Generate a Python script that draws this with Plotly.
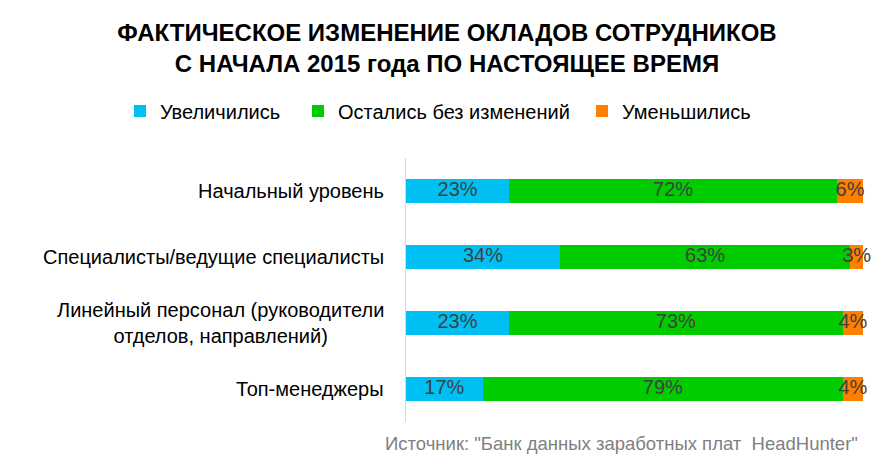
import plotly.graph_objects as go

categories = ["Начальный уровень",
              "Специалисты/ведущие специалисты",
              "Линейный персонал (руководители<br>отделов, направлений)",
              "Топ-менеджеры"]
series_names = ["Увеличились", "Остались без изменений", "Уменьшились"]
increased = [22.6, 33.7, 22.5, 16.8]
unchanged = [71.7, 63.5, 73.1, 78.8]
decreased = [5.7, 2.8, 4.4, 4.4]
increased_labels = ["23%", "34%", "23%", "17%"]
unchanged_labels = ["72%", "63%", "73%", "79%"]
decreased_labels = ["6%", "3%", "4%", "4%"]
colors = ["#00BFF3", "#00CC00", "#FF7F00"]

FONT = "Liberation Sans, Arial, sans-serif"
W, H = 894, 473
L, R, T, B = 406, 31, 158, 51
PW, PH = W - L - R, H - T - B

ys = list(range(len(categories)))
series = [increased, unchanged, decreased]
labels = [increased_labels, unchanged_labels, decreased_labels]
legend_ids = ["legend", "legend2", "legend3"]
legend_text_x = [160, 338, 622]

fig = go.Figure()
base = [0.0] * len(categories)
for name, vals, labs, col, lid in zip(series_names, series, labels, colors, legend_ids):
    fig.add_trace(go.Bar(
        y=ys, x=vals, name=name, orientation="h", legend=lid,
        marker=dict(color=col, line=dict(width=0)),
        hoverinfo="skip",
    ))
    mids = [b + v / 2 for b, v in zip(base, vals)]
    fig.add_trace(go.Scatter(
        y=ys, x=mids, mode="text", text=labs, showlegend=False,
        textposition="middle center", cliponaxis=False,
        textfont=dict(family=FONT, size=20, color="#404040"),
        hoverinfo="skip",
    ))
    base = [b + v for b, v in zip(base, vals)]

for i, c in enumerate(categories):
    fig.add_annotation(x=0, y=i, xref="paper", yref="y", text=c,
                       xanchor="right", yanchor="middle", align="center",
                       xshift=-20, showarrow=False,
                       font=dict(family=FONT, size=20, color="#000000"))

fig.add_annotation(x=(860 - L) / PW, y=((H - B) - 443) / PH, xref="paper", yref="paper",
                   text='Источник: "Банк данных заработных плат  HeadHunter"',
                   xanchor="right", yanchor="middle", showarrow=False,
                   font=dict(family=FONT, size=18.5, color="#808080"))

legend_common = dict(orientation="h", xref="container", yref="container",
                     xanchor="left", y=1 - 111 / H, yanchor="middle",
                     font=dict(family=FONT, size=20, color="#000000"),
                     itemwidth=30, bgcolor="rgba(0,0,0,0)")
legend_layouts = {lid: dict(legend_common, x=(tx - 40) / W)
                  for lid, tx in zip(legend_ids, legend_text_x)}

fig.update_layout(
    width=W, height=H,
    margin=dict(l=L, r=R, t=T, b=B, autoexpand=False),
    paper_bgcolor="white", plot_bgcolor="white",
    barmode="stack", bargap=0.65,
    title=dict(text="<b>ФАКТИЧЕСКОЕ ИЗМЕНЕНИЕ ОКЛАДОВ СОТРУДНИКОВ<br>С НАЧАЛА 2015 года ПО НАСТОЯЩЕЕ ВРЕМЯ</b>",
               x=0.5, xanchor="center", y=1 - 41 / H, yanchor="middle",
               font=dict(family=FONT, size=24, color="#000000")),
    xaxis=dict(range=[0, 100], showgrid=False, showticklabels=False, zeroline=False,
               showline=False, fixedrange=True),
    yaxis=dict(range=[3.5, -0.5], showgrid=False, showticklabels=False, zeroline=False,
               showline=True, linecolor="#D9D9D9", linewidth=1, ticks="", fixedrange=True),
    showlegend=True,
    **legend_layouts,
)

fig.write_html("out.html")
